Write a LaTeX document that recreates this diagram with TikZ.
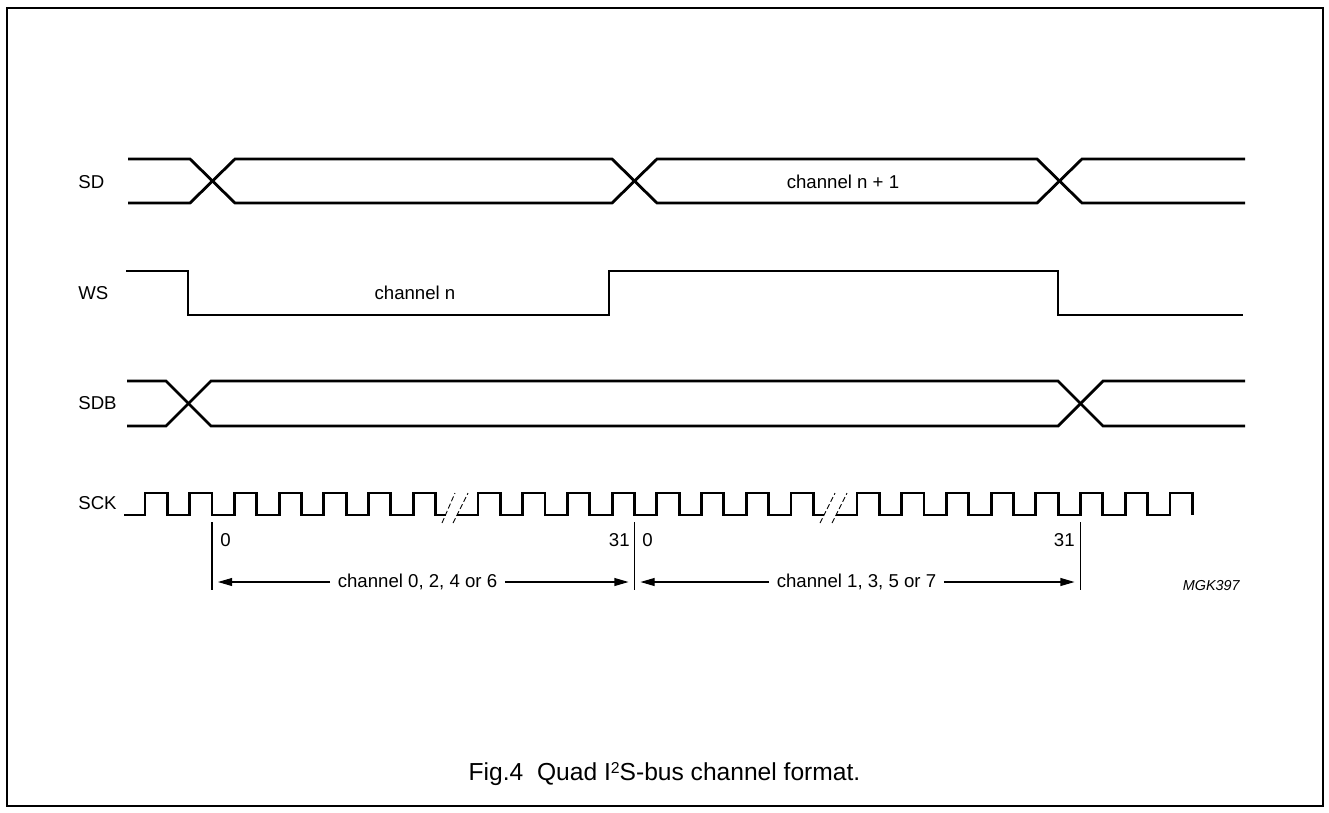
\documentclass[tikz,border=0pt]{standalone}
\usepackage{fontspec}
\setmainfont{Liberation Sans}
\usetikzlibrary{arrows.meta}

\tikzset{
  signal/.style={line width=1.6pt},
  thinline/.style={line width=0.6pt},
  breakmark/.style={line width=0.5pt, dash pattern=on 3pt off 1.5pt},
  sig/.style={font=\fontsize{10.6}{12}\selectfont, inner sep=0pt},
  spantext/.style={font=\fontsize{10.6}{12}\selectfont, inner xsep=4.2pt, inner ysep=0pt},
  spanarrow/.style={thinline, -{Triangle[length=8pt,width=4.5pt]}, shorten >=3.4pt},
}

\begin{document}
\begin{tikzpicture}[x=0.02cm,y=-0.02cm]
  \useasboundingbox (0,0) rectangle (1329,812);

  % Frame
  \draw[line width=1pt] (7,8) rectangle (1323,806);

  % Signal names
  \node[sig,anchor=west] (sdname)  at (78,182) {SD};
  \node[sig,anchor=west] (wsname)  at (78,293) {WS};
  \node[sig,anchor=west] (sdbname) at (78,403) {SDB};
  \node[sig,anchor=west] (sckname) at (78,503) {SCK};

  % SD
  \draw[signal] (128,159) -- (190,159) -- (235,203) -- (612,203) -- (657,159)
    -- (1037,159) -- (1082,203) -- (1245,203);
  \draw[signal] (128,203) -- (190,203) -- (235,159) -- (612,159) -- (657,203)
    -- (1037,203) -- (1082,159) -- (1245,159);
  \node[sig] (chnext) at (843,182) {channel n + 1};

  % WS
  \draw[signal] (126,271) -- (188,271) -- (188,315) -- (609,315) -- (609,271)
    -- (1058,271) -- (1058,315) -- (1243,315);
  \node[sig] (chn) at (415,293) {channel n};

  % SDB
  \draw[signal] (127,381) -- (166,381) -- (211,426) -- (1058,426) -- (1103,381) -- (1245,381);
  \draw[signal] (127,426) -- (166,426) -- (211,381) -- (1058,381) -- (1103,426) -- (1245,426);

  % SCK
  \draw[signal] (124,515) foreach \k in {0,...,6}
    { -- ({145+44.7*\k},515) -- ++(0,-22) -- ++(22.35,0) -- ++(0,22) } -- (445.5,515);
  \draw[signal] (457,515) foreach \k in {0,...,7}
    { -- ({478+44.7*\k},515) -- ++(0,-22) -- ++(22.35,0) -- ++(0,22) } -- (824,515);
  \draw[signal] (836,515) foreach \k in {0,...,7}
    { -- ({857+44.7*\k},515) -- ++(0,-22) -- ++(22.35,0) -- ++(0,22) };

  % Breaks
  \draw[breakmark] (442,523) -- (455,493);
  \draw[breakmark] (453,523) -- (468,493);
  \draw[breakmark] (820,523) -- (835,493);
  \draw[breakmark] (832,523) -- (847,493);

  % Bit markers
  \foreach \m in {212,634.5,1080.5}
    \draw[thinline] (\m,522) -- (\m,590);
  \coordinate (m0)   at (212,582);
  \coordinate (m31a) at (634.5,582);
  \coordinate (m31b) at (1080.5,582);
  \node[sig,anchor=west] (bitA0)  at (220,540)  {0};
  \node[sig,anchor=east] (bitA31) at (630,540)  {31};
  \node[sig,anchor=west] (bitB0)  at (642,540)  {0};
  \node[sig,anchor=east] (bitB31) at (1075,540) {31};

  % Channel spans
  \node[spantext] (chA) at (417.5,582) {channel 0, 2, 4 or 6};
  \draw[spanarrow] (chA.west) -- (m0);
  \draw[spanarrow] (chA.east) -- (m31a);
  \node[spantext] (chB) at (856.5,582) {channel 1, 3, 5 or 7};
  \draw[spanarrow] (chB.west) -- (m31a);
  \draw[spanarrow] (chB.east) -- (m31b);

  \node[anchor=east,inner sep=0pt,font=\fontsize{8.2}{10}\itshape] (code) at (1240,586) {MGK397};

  % Caption
  \node[anchor=base,inner sep=0pt,font=\fontsize{14}{16}\selectfont] (caption) at (664.5,780)
    {Fig.4\ \ Quad I\raisebox{3.6pt}{\fontsize{9}{10}\selectfont 2}S-bus channel format.};
\end{tikzpicture}
\end{document}
